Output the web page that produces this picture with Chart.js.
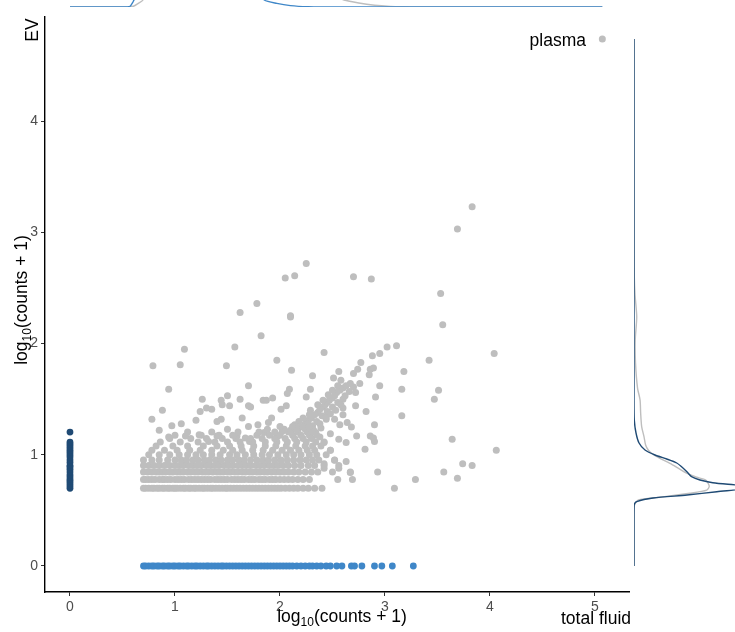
<!DOCTYPE html>
<html>
<head>
<meta charset="utf-8">
<script src="https://cdn.jsdelivr.net/npm/chart.js@4.4.1/dist/chart.umd.min.js"></script>
<style>
body { margin: 0; background: #fff; overflow: hidden; }
#wrap { position: relative; width: 735px; height: 632px; overflow: hidden; }
canvas { position: absolute; }
</style>
</head>
<body>
<div id="wrap">
<canvas id="main" width="735" height="632" style="left:0;top:0"></canvas>
<canvas id="topDens" width="735" height="212" style="left:0;top:-200px"></canvas>
<canvas id="rightDens" width="105" height="632" style="left:630px;top:0"></canvas>
</div>
<script>
const FONT = "'Liberation Sans', Arial, sans-serif";
const GRAY = "#bebebe";
const LIGHT_BLUE = "#3f87c8";
const DARK_BLUE = "#1f4a74";

const xTicks = [0, 1, 2, 3, 4, 5];
const yTicks = [0, 1, 2, 3, 4];
const xMin = -0.238, xMax = 5.324;
const yMin = -0.234, yMax = 4.937;

// points only in EV (x = 0)
const evOnlyY = [0.699, 0.72, 0.74, 0.76, 0.778, 0.80, 0.82, 0.845, 0.87, 0.89,
    0.903, 0.93, 0.954, 0.98, 1.0, 1.021, 1.041, 1.06, 1.079, 1.097, 1.114, 1.204];

// points only in total fluid (y = 0)
const fluidOnlyX = [0.70, 0.72, 0.75, 0.78, 0.80, 0.83, 0.85, 0.88, 0.90, 0.93,
    0.95, 0.98, 1.00, 1.03, 1.05, 1.08, 1.11, 1.13, 1.16, 1.19, 1.21, 1.24,
    1.27, 1.30, 1.32, 1.35, 1.38, 1.41, 1.44, 1.46, 1.49, 1.52, 1.55, 1.58,
    1.61, 1.64, 1.67, 1.70, 1.73, 1.76, 1.79, 1.82, 1.85, 1.88, 1.91, 1.94,
    1.97, 2.00, 2.03, 2.06, 2.09, 2.12, 2.16, 2.20, 2.24, 2.28, 2.31, 2.35,
    2.39, 2.44, 2.48, 2.54, 2.59, 2.68, 2.71, 2.78, 2.90, 2.97, 3.07, 3.27];

// plasma vs total fluid: lattice rows at low counts
const stripeY = [0.699, 0.778, 0.845, 0.903, 0.954, 1.0, 1.041, 1.079, 1.114,
    1.146, 1.176, 1.204, 1.23, 1.255];
const stripeX = [
    [0.70, 0.72, 0.75, 0.78, 0.80, 0.83, 0.85, 0.88, 0.90, 0.93, 0.95, 0.98, 1.00,
     1.02, 1.05, 1.08, 1.10, 1.13, 1.15, 1.18, 1.20, 1.23, 1.26, 1.28, 1.31, 1.34,
     1.36, 1.39, 1.42, 1.45, 1.48, 1.50, 1.53, 1.56, 1.59, 1.62, 1.65, 1.68, 1.71,
     1.74, 1.77, 1.80, 1.83, 1.86, 1.89, 1.92, 1.95, 1.98, 2.01, 2.05, 2.09, 2.13,
     2.17, 2.22, 2.27, 2.33, 2.40, 3.09],
    [0.70, 0.72, 0.75, 0.78, 0.81, 0.85, 0.88, 0.90, 0.93, 0.96, 1.00, 1.03, 1.06,
     1.09, 1.13, 1.16, 1.19, 1.22, 1.25, 1.28, 1.31, 1.34, 1.38, 1.41, 1.44, 1.47,
     1.50, 1.54, 1.57, 1.60, 1.63, 1.66, 1.70, 1.73, 1.76, 1.80, 1.83, 1.86, 1.90,
     1.93, 1.96, 2.00, 2.04, 2.08, 2.12, 2.17, 2.22, 2.28, 2.55, 2.69, 3.29],
    [0.70, 0.74, 0.78, 0.82, 0.85, 0.88, 0.91, 0.95, 0.98, 1.02, 1.05, 1.08, 1.12,
     1.15, 1.19, 1.22, 1.26, 1.29, 1.32, 1.36, 1.40, 1.43, 1.46, 1.50, 1.53, 1.57,
     1.60, 1.64, 1.67, 1.71, 1.74, 1.78, 1.81, 1.85, 1.88, 1.92, 1.96, 2.00, 2.04,
     2.08, 2.13, 2.18, 2.24, 2.30, 2.36, 2.50, 2.67, 2.93, 3.56],
    [0.70, 0.75, 0.80, 0.85, 0.90, 0.95, 1.00, 1.04, 1.08, 1.13, 1.17, 1.21, 1.25,
     1.30, 1.34, 1.38, 1.42, 1.47, 1.51, 1.55, 1.60, 1.64, 1.68, 1.72, 1.77, 1.81,
     1.85, 1.90, 1.94, 1.98, 2.03, 2.08, 2.14, 2.20, 2.27, 2.33, 2.42, 2.56, 3.83],
    [0.70, 0.78, 0.85, 0.93, 1.00, 1.06, 1.11, 1.17, 1.22, 1.28, 1.33, 1.39, 1.44,
     1.50, 1.55, 1.61, 1.66, 1.72, 1.78, 1.84, 1.89, 1.95, 2.01, 2.07, 2.13, 2.19,
     2.25, 2.31, 2.37, 2.52],
    [0.75, 0.85, 0.95, 1.04, 1.12, 1.20, 1.27, 1.35, 1.43, 1.52, 1.59, 1.67, 1.75,
     1.83, 1.90, 1.98, 2.06, 2.13, 2.20, 2.28, 2.35, 2.44],
    [0.78, 0.90, 1.02, 1.14, 1.24, 1.35, 1.46, 1.55, 1.64, 1.74, 1.84, 1.93, 2.02,
     2.10, 2.18, 2.26, 2.33, 2.48],
    [0.82, 0.98, 1.12, 1.27, 1.40, 1.52, 1.63, 1.75, 1.86, 1.96, 2.06, 2.15, 2.24,
     2.31, 2.39],
    [0.86, 1.05, 1.22, 1.38, 1.50, 1.62, 1.74, 1.86, 1.97, 2.07, 2.16, 2.25, 2.34, 2.42],
    [0.95, 1.15, 1.30, 1.45, 1.58, 1.72, 1.83, 1.95, 2.05, 2.14, 2.22, 2.30],
    [1.00, 1.25, 1.42, 1.55, 1.78, 1.90, 2.00, 2.12, 2.20, 2.28, 2.35],
    [1.12, 1.35, 1.60, 1.80, 1.95, 2.08, 2.17, 2.26, 2.33],
    [1.50, 1.88, 2.04, 2.15, 2.24, 2.31],
    [1.70, 2.00, 2.12, 2.22, 2.28]
];

// plasma vs total fluid: scattered points
const plasmaPts = [
    [1.09, 1.95], [1.57, 1.97], [0.79, 1.80], [1.05, 1.81], [1.49, 1.80], [1.97, 1.85],
    [2.42, 1.92], [2.11, 1.76], [2.31, 1.71], [0.94, 1.59], [1.70, 1.62], [2.09, 1.59],
    [2.29, 1.59], [1.26, 1.50], [1.44, 1.49], [1.50, 1.53], [1.62, 1.50], [1.84, 1.49],
    [1.87, 1.49], [1.93, 1.51], [2.07, 1.55], [2.25, 1.52], [1.45, 1.45], [1.52, 1.44],
    [0.88, 1.40], [1.24, 1.39], [1.30, 1.42], [1.35, 1.41], [1.70, 1.44], [1.72, 1.43],
    [2.01, 1.41], [2.06, 1.44], [0.78, 1.32], [0.97, 1.26], [1.06, 1.28], [1.20, 1.31],
    [1.40, 1.30], [1.44, 1.32], [1.64, 1.33], [1.79, 1.27], [1.89, 1.29], [1.92, 1.33],
    [0.85, 1.22], [0.94, 1.16], [1.10, 1.17], [1.23, 1.18], [1.32, 1.12], [1.40, 1.17],
    [1.59, 1.17], [1.67, 1.15], [1.71, 1.12], [1.85, 1.20], [1.97, 1.16], [2.02, 1.21],
    [2.10, 1.22],
    [2.25, 2.72], [2.05, 2.59], [2.14, 2.61], [1.78, 2.36], [1.62, 2.28], [2.10, 2.24],
    [2.10, 2.25], [1.82, 2.07], [3.83, 3.23], [3.69, 3.03], [2.70, 2.60], [2.87, 2.58],
    [3.53, 2.45], [3.55, 2.17], [3.02, 1.97], [3.11, 1.98],
    [2.88, 1.89], [2.95, 1.91], [3.42, 1.85], [4.04, 1.91], [2.77, 1.83], [2.74, 1.77],
    [2.70, 1.73], [2.86, 1.77], [2.89, 1.78], [2.85, 1.72], [2.56, 1.75], [2.51, 1.69],
    [2.58, 1.67], [3.18, 1.75], [2.67, 1.64], [2.76, 1.64], [2.70, 1.61], [2.95, 1.62],
    [3.16, 1.59], [3.51, 1.58], [3.47, 1.50], [2.91, 1.52], [2.72, 1.56], [2.72, 1.44],
    [2.82, 1.39], [2.60, 1.42], [3.16, 1.35], [2.44, 1.32], [2.60, 1.36], [2.64, 1.29],
    [2.68, 1.25], [2.90, 1.27], [2.57, 1.27], [2.48, 1.19], [2.38, 1.16], [2.73, 1.17],
    [2.86, 1.17], [2.89, 1.15], [2.90, 1.12], [2.56, 1.14], [2.63, 1.11], [2.42, 1.11],
    [3.64, 1.14], [4.06, 1.04], [2.81, 1.05], [2.48, 1.04], [2.52, 0.95], [2.42, 0.92],
    [2.42, 0.88], [2.63, 0.94], [2.56, 0.88], [2.67, 0.84], [3.74, 0.92], [3.69, 0.79],
    [2.20, 1.25], [2.24, 1.28], [2.27, 1.31], [2.30, 1.33], [2.33, 1.36], [2.36, 1.38],
    [2.38, 1.41], [2.41, 1.43], [2.43, 1.45], [2.45, 1.47], [2.47, 1.49], [2.50, 1.51],
    [2.52, 1.53], [2.54, 1.56], [2.57, 1.58], [2.60, 1.60], [2.63, 1.62], [2.31, 1.26],
    [2.35, 1.30], [2.40, 1.35], [2.45, 1.39], [2.50, 1.43], [2.55, 1.47], [2.60, 1.50],
    [2.26, 1.21], [2.32, 1.22], [2.38, 1.28], [2.44, 1.34], [2.48, 1.37], [2.53, 1.40],
    [2.58, 1.45], [2.62, 1.53], [2.66, 1.57], [2.46, 1.54], [2.41, 1.49], [2.36, 1.45],
    [2.29, 1.40], [2.50, 1.58], [2.55, 1.62], [2.34, 1.20], [2.39, 1.24], [2.52, 1.32],
    [2.22, 1.33], [2.18, 1.30], [2.14, 1.27], [2.28, 1.36],
    [5.07, 4.74]
];

// marginal densities: [x, density] on top, [y, density] on the right
const topFluidDens = [[0, 0], [0.5, 0], [0.57, 0.003], [0.60, 0.025], [0.62, 0.05],
    [0.66, 0.14], [0.72, 0.35], [0.85, 0.65], [1.05, 0.85], [1.3, 0.75], [1.55, 0.45],
    [1.70, 0.2], [1.78, 0.08], [1.85, 0.035], [1.97, 0.018], [2.1, 0.007], [2.27, 0.001],
    [2.4, 0], [5.07, 0]];
const topPlasmaDens = [[0, 0], [0.55, 0], [0.61, 0.005], [0.65, 0.018], [0.695, 0.035],
    [0.75, 0.12], [0.9, 0.45], [1.2, 0.6], [1.8, 0.4], [2.3, 0.15], [2.5, 0.06],
    [2.61, 0.035], [2.75, 0.02], [2.9, 0.009], [3.05, 0.003], [3.17, 0.001], [3.35, 0],
    [5.07, 0]];
const rightEvDens = [[0, 0], [0.45, 0], [0.549, 0.002], [0.578, 0.027], [0.611, 0.188],
    [0.638, 0.525], [0.668, 0.82], [0.701, 1.15], [0.719, 1.1], [0.749, 0.78],
    [0.773, 0.653], [0.803, 0.57], [0.836, 0.535], [0.881, 0.485], [0.926, 0.423],
    [0.962, 0.324], [0.998, 0.208], [1.043, 0.109], [1.106, 0.05], [1.196, 0.02],
    [1.313, 0.003], [1.49, 0], [4.74, 0]];
const rightPlasmaDens = [[0, 0], [0.50, 0], [0.54, 0.003], [0.567, 0.015], [0.594, 0.043],
    [0.618, 0.257], [0.654, 0.554], [0.683, 0.72], [0.719, 0.745], [0.773, 0.71],
    [0.798, 0.62], [0.834, 0.52], [0.878, 0.44], [0.923, 0.356], [0.968, 0.257],
    [1.013, 0.175], [1.043, 0.141], [1.088, 0.115], [1.163, 0.099], [1.253, 0.076],
    [1.373, 0.066], [1.493, 0.06], [1.60, 0.035], [1.826, 0.015], [2.03, 0.012],
    [2.24, 0.027], [2.44, 0.01], [2.60, 0.003], [2.84, 0], [4.74, 0]];

Chart.defaults.font.family = FONT;

const plasmaData = plasmaPts.map(p => ({x: p[0], y: p[1]}));
stripeY.forEach((y, i) => {
    stripeX[i].forEach(x => plasmaData.push({x: x, y: y}));
});

function drawLogTitle(ctx, x, y, angle) {
    const big = "17.5px " + FONT;
    const small = "12px " + FONT;
    ctx.save();
    ctx.translate(x, y);
    ctx.rotate(angle);
    ctx.font = big;
    const w1 = ctx.measureText("log").width;
    const w3 = ctx.measureText("(counts + 1)").width;
    ctx.font = small;
    const w2 = ctx.measureText("10").width;
    let cx = -(w1 + w2 + w3) / 2;
    ctx.fillStyle = "#000";
    ctx.textBaseline = "alphabetic";
    ctx.font = big;
    ctx.fillText("log", cx, 0);
    cx += w1;
    ctx.font = small;
    ctx.fillText("10", cx, 4);
    cx += w2;
    ctx.font = big;
    ctx.fillText("(counts + 1)", cx, 0);
    ctx.restore();
}

const textPlugin = {
    id: "textPlugin",
    afterDraw(chart) {
        const ctx = chart.ctx;
        drawLogTitle(ctx, 342, 622, 0);
        drawLogTitle(ctx, 27, 300, -Math.PI / 2);
        ctx.save();
        ctx.fillStyle = "#000";
        ctx.font = "17.5px " + FONT;
        ctx.textAlign = "center";
        ctx.fillText("total fluid", 596, 624);
        ctx.textAlign = "right";
        ctx.fillText("plasma", 586, 46);
        ctx.translate(38, 30);
        ctx.rotate(-Math.PI / 2);
        ctx.textAlign = "center";
        ctx.fillText("EV", 0, 0);
        ctx.restore();
    }
};

function axisOpts(min, max, tickVals, isX) {
    return {
        type: "linear",
        min: min,
        max: max,
        afterFit: s => {
            if (isX) s.height = 40; else s.width = 45;
        },
        afterBuildTicks: s => {
            s.ticks = tickVals.map(v => ({value: v}));
        },
        grid: {
            display: true,
            drawOnChartArea: false,
            drawTicks: true,
            tickLength: 4,
            color: "#333",
            lineWidth: 1
        },
        border: {display: true, color: "#000", width: 1.4},
        ticks: {
            color: "#4d4d4d",
            font: {size: 14},
            padding: isX ? 3 : 3,
            maxRotation: 0
        }
    };
}

new Chart(document.getElementById("main"), {
    type: "scatter",
    data: {
        datasets: [
            {
                label: "plasma",
                data: plasmaData,
                backgroundColor: GRAY,
                pointRadius: 3.5,
                pointBorderWidth: 0
            },
            {
                label: "EV only",
                data: evOnlyY.map(y => ({x: 0, y: y})),
                backgroundColor: DARK_BLUE,
                pointRadius: 3.4,
                pointBorderWidth: 0
            },
            {
                label: "total fluid only",
                data: fluidOnlyX.map(x => ({x: x, y: 0})),
                backgroundColor: LIGHT_BLUE,
                pointRadius: 3.4,
                pointBorderWidth: 0
            }
        ]
    },
    options: {
        responsive: false,
        animation: false,
        devicePixelRatio: 1,
        layout: {padding: {left: 0, top: 17, right: 106, bottom: 0}},
        plugins: {legend: {display: false}, tooltip: {enabled: false}},
        scales: {
            x: axisOpts(xMin, xMax, xTicks, true),
            y: axisOpts(yMin, yMax, yTicks, false)
        }
    },
    plugins: [textPlugin]
});

function densLine(data, color, swap) {
    return {
        data: data.map(p => swap ? {x: p[1], y: p[0]} : {x: p[0], y: p[1]}),
        borderColor: color,
        borderWidth: 1.4,
        showLine: true,
        pointRadius: 0,
        tension: 0.25,
        fill: false
    };
}

new Chart(document.getElementById("topDens"), {
    type: "scatter",
    data: {
        datasets: [
            densLine(topFluidDens, LIGHT_BLUE, false),
            densLine(topPlasmaDens, GRAY, false)
        ]
    },
    options: {
        responsive: false,
        animation: false,
        devicePixelRatio: 1,
        layout: {padding: {left: 45, right: 106, top: 0, bottom: 5}},
        plugins: {legend: {display: false}, tooltip: {enabled: false}},
        scales: {
            x: {type: "linear", min: xMin, max: xMax, display: false},
            y: {type: "linear", min: 0, max: 1.035, display: false}
        }
    }
});

new Chart(document.getElementById("rightDens"), {
    type: "scatter",
    data: {
        datasets: [
            densLine(rightEvDens, DARK_BLUE, true),
            densLine(rightPlasmaDens, GRAY, true)
        ]
    },
    options: {
        responsive: false,
        animation: false,
        devicePixelRatio: 1,
        layout: {padding: {left: 4, right: 0, top: 17, bottom: 40}},
        plugins: {legend: {display: false}, tooltip: {enabled: false}},
        scales: {
            x: {type: "linear", min: 0, max: 1, display: false},
            y: {type: "linear", min: yMin, max: yMax, display: false}
        }
    }
});
</script>
</body>
</html>
